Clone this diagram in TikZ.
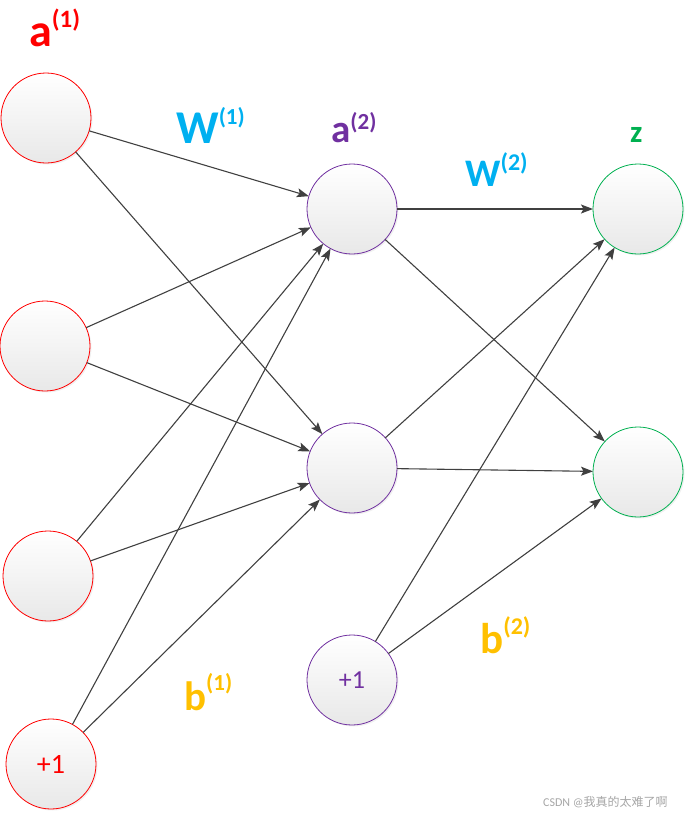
\documentclass[tikz,border=0pt]{standalone}
\usepackage{fontspec}
\setmainfont{Carlito}
\newfontfamily\cjkfont{Noto Sans CJK SC}
\usetikzlibrary{arrows.meta,shadows}
\definecolor{nnred}{HTML}{FF0000}
\definecolor{nnpurple}{HTML}{7030A0}
\definecolor{nngreen}{HTML}{00B050}
\definecolor{nncyan}{HTML}{00B0F0}
\definecolor{nngold}{HTML}{FFC000}
\definecolor{nnline}{HTML}{404040}
\newcommand{\nnlab}[5]{\bfseries\fontsize{#1}{#1}\selectfont #3\raisebox{#5pt}{\fontsize{#2}{#2}\selectfont(#4)}}
\tikzset{
  neuron/.style={circle,minimum size=90pt,inner sep=0pt,outer sep=0pt,line width=0.8pt,
    top color=white,bottom color=black!9,
    drop shadow={shadow xshift=1.5pt,shadow yshift=-1.5pt,opacity=0.12}},
  layerlab/.style={anchor=base west,inner sep=0pt},
  conn/.style={draw=nnline,line width=1.1pt,-{Stealth[length=12pt,width=9pt,inset=2.5pt]}}
}
\begin{document}
\begin{tikzpicture}[x=1pt,y=-1pt]
\useasboundingbox (0,0) rectangle (686,815);
\node[neuron,draw=nnred] (in1) at (46,118) {};
\node[neuron,draw=nnred] (in2) at (45,346) {};
\node[neuron,draw=nnred] (in3) at (48,576) {};
\node[neuron,draw=nnred,text=nnred,font=\fontsize{28}{28}\selectfont] (bias1) at (51,764) {+1};
\node[neuron,draw=nnpurple] (hid1) at (352,209) {};
\node[neuron,draw=nnpurple] (hid2) at (352,468) {};
\node[neuron,draw=nnpurple,text=nnpurple,font=\fontsize{26}{26}\selectfont] (bias2) at (352,680) {+1};
\node[neuron,draw=nngreen] (out1) at (638,209) {};
\node[neuron,draw=nngreen] (out2) at (638,472) {};
\node[layerlab,text=nnred] (lab1) at (29,46) {\nnlab{46}{25}{a}{1}{19}};
\node[layerlab,text=nnpurple] (lab2) at (331,142) {\nnlab{39}{23}{a}{2}{13}};
\node[layerlab,text=nngreen] (lab3) at (630,142) {\bfseries\fontsize{31}{31}\selectfont z};
\node[layerlab,text=nncyan] (w1) at (176,143) {\nnlab{47}{23}{W}{1}{19}};
\node[layerlab,text=nncyan] (w2) at (465,186) {\nnlab{39}{24}{W}{2}{16}};
\node[layerlab,text=nngold] (b1) at (184,710) {\nnlab{41}{23}{b}{1}{20}};
\node[layerlab,text=nngold] (b2) at (480,653) {\nnlab{43}{24}{b}{2}{19}};
\node[layerlab,text=black!35,font=\fontsize{12}{12}\selectfont] (mark) at (543,806) {CSDN @{\cjkfont 我真的太难了啊}};
\draw[conn] (in1) -- (hid1);
\draw[conn] (in1) -- (hid2);
\draw[conn] (in2) -- (hid1);
\draw[conn] (in2) -- (hid2);
\draw[conn] (in3) -- (hid1);
\draw[conn] (in3) -- (hid2);
\draw[conn] (bias1) -- (hid1);
\draw[conn] (bias1) -- (hid2);
\draw[conn] (hid1) -- (out1);
\draw[conn] (hid1) -- (out2);
\draw[conn] (hid2) -- (out1);
\draw[conn] (hid2) -- (out2);
\draw[conn] (bias2) -- (out1);
\draw[conn] (bias2) -- (out2);
\end{tikzpicture}
\end{document}
